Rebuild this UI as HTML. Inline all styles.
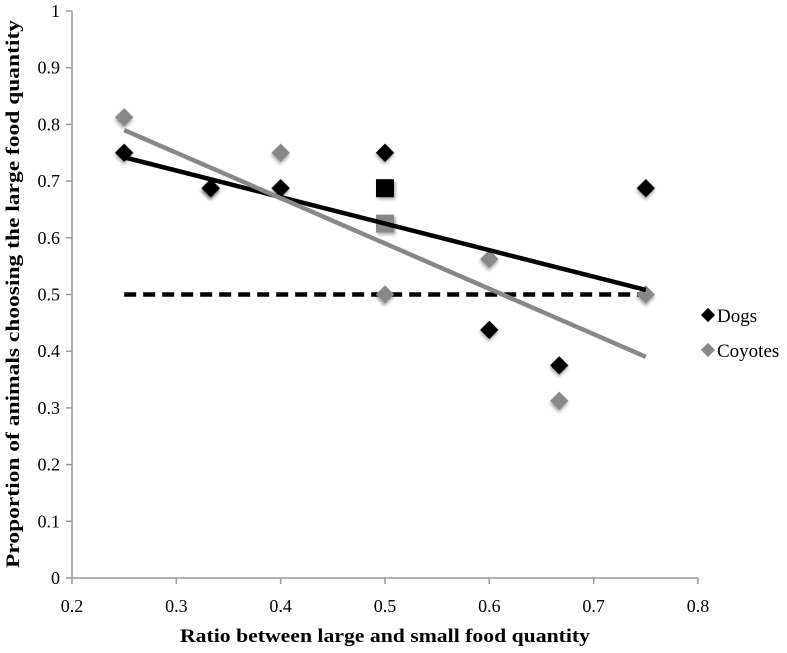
<!DOCTYPE html>
<html><head><meta charset="utf-8"><style>
body{margin:0;background:#fff;}
svg text{font-family:"Liberation Serif",serif;}
</style></head><body>
<svg id="chart" width="787" height="648" xmlns="http://www.w3.org/2000/svg">
<defs><filter id="sh" x="-50%" y="-50%" width="200%" height="200%"><feDropShadow dx="1.5" dy="2" stdDeviation="1.5" flood-color="#000" flood-opacity="0.35"/></filter></defs>
<g id="axes"></g><g id="marks"></g>
<text x="385" y="642" text-anchor="middle" font-size="19" font-weight="bold" textLength="410" lengthAdjust="spacingAndGlyphs">Ratio between large and small food quantity</text>
<text transform="translate(19,294) rotate(-90)" text-anchor="middle" font-size="19" font-weight="bold" textLength="548" lengthAdjust="spacingAndGlyphs">Proportion of animals choosing the large food quantity</text>
<g>
<rect x="703" y="310" width="10" height="10" transform="rotate(45 708 315)" fill="#000"/>
<text x="717" y="322" font-size="19">Dogs</text>
<rect x="703" y="345" width="10" height="10" transform="rotate(45 708 350)" fill="#888"/>
<text x="717" y="357" font-size="19">Coyotes</text>
</g>
</svg>
<script>
const xTicks=[0.2,0.3,0.4,0.5,0.6,0.7,0.8];
const yTicks=[0,0.1,0.2,0.3,0.4,0.5,0.6,0.7,0.8,0.9,1];
const dogsX=[0.25,0.333,0.4,0.5,0.6,0.667,0.75];
const dogsY=[0.75,0.6875,0.6875,0.75,0.4375,0.375,0.6875];
const coyX=[0.25,0.333,0.4,0.5,0.6,0.667,0.75];
const coyY=[0.8125,0.6875,0.75,0.5,0.5625,0.3125,0.5];
const meanX=[0.5,0.5];
const meanY=[0.6875,0.625];
const dogsTrend=[[0.25,0.742],[0.75,0.508]];
const coyTrend=[[0.25,0.79],[0.75,0.39]];
const chance=[[0.25,0.5],[0.75,0.5]];
const X=v=>72+(v-0.2)/0.6*626;
const Y=v=>578-v*567;
const NS='http://www.w3.org/2000/svg';
function mk(p,t,a){const e=document.createElementNS(NS,t);for(const k in a)e.setAttribute(k,a[k]);p.appendChild(e);return e;}
const ax=document.getElementById('axes'),mg=document.getElementById('marks');
let l=mk(ax,'line',{x1:72,y1:Y(1),x2:72,y2:Y(0),stroke:'#999','stroke-width':1.5});


l=mk(ax,'line',{x1:72,y1:Y(0),x2:X(0.8),y2:Y(0),stroke:'#999','stroke-width':1.5});


yTicks.forEach(v=>{mk(ax,'line',{x1:66,x2:72,y1:Y(v),y2:Y(v),stroke:'#999','stroke-width':1.5});
const t=mk(ax,'text',{x:60,y:Y(v)+6,'text-anchor':'end','font-size':18});t.textContent=String(v);

});
xTicks.forEach(v=>{mk(ax,'line',{x1:X(v),x2:X(v),y1:Y(0),y2:Y(0)+6,stroke:'#999','stroke-width':1.5});
const t=mk(ax,'text',{x:X(v),y:612,'text-anchor':'middle','font-size':18});t.textContent=v.toFixed(1);

});
function line(pts,col,name,dash){const e=mk(mg,'line',{x1:X(pts[0][0]),y1:Y(pts[0][1]),x2:X(pts[1][0]),y2:Y(pts[1][1]),stroke:col,'stroke-width':4.5});
if(dash)e.setAttribute('stroke-dasharray','12 7');

}
line(chance,'#000','chance-line',true);
function dia(x,y,col,name){const cx=X(x),cy=Y(y);const e=mk(mg,'rect',{x:cx-6.5,y:cy-6.5,width:13,height:13,fill:col,transform:`rotate(45 ${cx} ${cy})`,filter:'url(#sh)'});

}
coyX.forEach((x,i)=>dia(x,coyY[i],'#888','coyote-point'));
dogsX.forEach((x,i)=>dia(x,dogsY[i],'#000','dog-point'));
['#000','#888'].forEach((c,i)=>{const e=mk(mg,'rect',{x:X(meanX[i])-9,y:Y(meanY[i])-9,width:18,height:18,fill:c,filter:'url(#sh)'});

});
line(dogsTrend,'#000','dogs-trendline');
line(coyTrend,'#888','coyotes-trendline');
</script>
</body></html>
